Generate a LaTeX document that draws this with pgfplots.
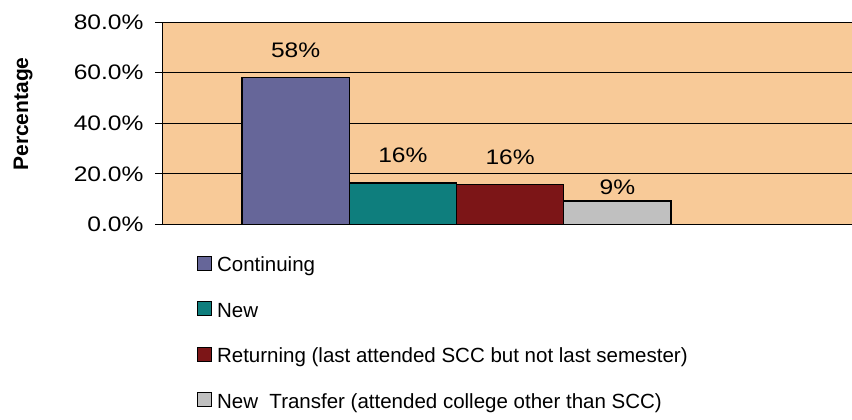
\documentclass[border=0pt]{standalone}
\usepackage{pgfplots}
\pgfplotsset{compat=1.18}
\usepackage{fontspec}
\setmainfont{Liberation Sans}
\newfontfamily\wide[FakeStretch=1.17]{Liberation Sans}
\definecolor{bgpeach}{RGB}{248,202,152}
\definecolor{cCont}{RGB}{102,102,153}
\definecolor{cNew}{RGB}{14,126,125}
\definecolor{cRet}{RGB}{124,21,23}
\definecolor{cTra}{RGB}{192,192,192}
\pgfplotsset{
  sq/.style={legend image code/.code={\path[draw=none,fill=none] (0pt,-5pt) rectangle (14pt,18pt);
    \draw[fill=#1, draw=black, line width=0.9pt] (0pt,-3pt) rectangle (14pt,11pt);}}
}
\begin{document}
\begin{tikzpicture}[x=1pt,y=1pt]
\useasboundingbox (0,0) rectangle (852,420);
\begin{axis}[
  at={(162pt,195.5pt)}, anchor=south west,
  scale only axis, width=690pt, height=202.5pt,
  xmin=-0.246, xmax=6.188, ymin=0, ymax=80,
  axis background/.style={fill=bgpeach},
  axis lines*=left,
  axis line style={-, black, line width=0.9pt},
  xtick=\empty,
  ytick={0,20,40,60,80},
  ymajorgrids,
  grid style={black, line width=0.8pt},
  tick align=outside,
  major tick length=7pt,
  ytick style={black, line width=0.8pt},
  /pgf/number format/assume math mode=true,
  yticklabel={\pgfmathprintnumber[fixed,fixed zerofill,precision=1]{\tick}\%},
  yticklabel style={font=\wide\fontsize{21}{24}\selectfont, text=black, xshift=-8pt},
  ylabel={Percentage},
  ylabel style={font=\bfseries\fontsize{21}{24}\selectfont, at={(axis description cs:-0.2014,0.546)}, anchor=center, rotate=0},
  ybar, bar width=1, bar shift=0pt,
  point meta=y,
  nodes near coords={\pgfmathprintnumber[fixed,precision=0]{\pgfplotspointmeta}\%},
  every node near coord/.append style={anchor=base, text=black, font=\wide\fontsize{21}{24}\selectfont},
  legend cell align=left,
  legend style={at={(axis description cs:0.0507,-0.12)}, anchor=north west,
    draw=none, fill=none, inner sep=0pt, row sep=17.5pt, column sep=5pt,
    nodes={inner sep=0pt, text height=15pt, text depth=5pt},
    font=\fontsize{20.5}{24}\selectfont},
]
\addplot[fill=cCont, draw=black, line width=1.2pt, every node near coord/.append style={yshift=20pt}, sq=cCont] coordinates {(1,58.2)};
\addlegendentry{Continuing}
\addplot[fill=cNew, draw=black, line width=1.2pt, every node near coord/.append style={yshift=20pt}, sq=cNew] coordinates {(2,16.4)};
\addlegendentry{New}
\addplot[fill=cRet, draw=black, line width=1.2pt, every node near coord/.append style={yshift=20.5pt}, sq=cRet] coordinates {(3,15.7)};
\addlegendentry{Returning (last attended SCC but not last semester)}
\addplot[fill=cTra, draw=black, line width=1.2pt, every node near coord/.append style={yshift=6pt}, sq=cTra] coordinates {(4,9.3)};
\addlegendentry{New\ \ Transfer (attended college other than SCC)}
\end{axis}
\end{tikzpicture}
\end{document}
